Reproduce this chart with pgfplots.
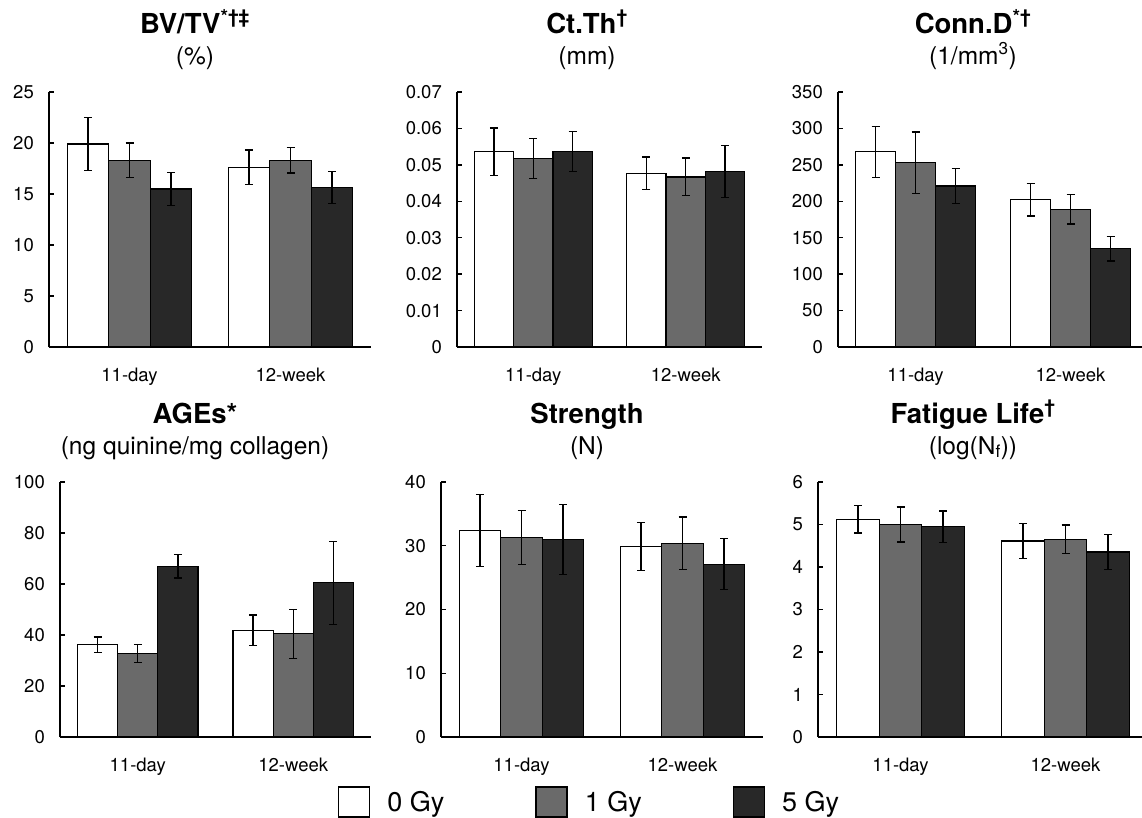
\documentclass[border=0pt]{standalone}
\usepackage{fontspec}
\setmainfont{TeX Gyre Heros}
\usepackage{pgfplots}
\pgfplotsset{compat=1.18}

\definecolor{gyone}{HTML}{6A6A6A}
\definecolor{gyfive}{HTML}{282828}

% one pixel of the reference = 1pt here
\pgfplotsset{
  panel/.style={
    scale only axis, height=255pt, anchor=south west,
    axis x line*=bottom, axis y line*=left,
    axis line style={line width=1.6pt, -},
    xmin=-0.5, xmax=1.5, ymin=0,
    xtick={0,1}, xticklabels={11-day,12-week},
    major x tick style={draw=none},
    tick align=inside, major tick length=5pt,
    major y tick style={line width=1.4pt, black},
    ybar, bar width=0.258,
    scaled y ticks=false,
    /pgf/number format/assume math mode=true,
    ticklabel style={font=\fontsize{18.5}{22}\selectfont},
    yticklabel style={anchor=east, inner sep=0pt, xshift=-15pt},
    xticklabel style={anchor=base, inner sep=0pt, yshift=-29pt},
    clip=false,
  },
  gy/.style={draw=black, line width=1.3pt, fill=#1,
    error bars/y dir=both, error bars/y explicit,
    error bars/error bar style={line width=1.3pt, black},
    error bars/error mark options={rotate=90, line width=1.3pt, mark size=4pt, black}},
}
\tikzset{
  ttl/.style={font=\fontsize{27.5}{32}\selectfont\bfseries},
  unt/.style={font=\fontsize{24.5}{29}\selectfont},
}

\begin{document}
\begin{tikzpicture}
\path[use as bounding box] (0,0) rectangle (1142pt,-817pt);

% BV/TV
\begin{axis}[panel, width=322pt, at={(49pt,-347pt)}, ymax=25, ytick={0,5,10,15,20,25}]
\addplot[gy=white, bar shift=-0.258] coordinates {(0,19.9) +- (0,2.6) (1,17.6) +- (0,1.7)};
\addplot[gy=gyone, bar shift=0] coordinates {(0,18.3) +- (0,1.7) (1,18.3) +- (0,1.25)};
\addplot[gy=gyfive, bar shift=0.258] coordinates {(0,15.5) +- (0,1.6) (1,15.65) +- (0,1.55)};
\end{axis}

% Ct.Th
\begin{axis}[panel, width=305pt, at={(457pt,-347pt)}, ymax=0.07,
  ytick={0,0.01,0.02,0.03,0.04,0.05,0.06,0.07},
  yticklabel style={/pgf/number format/fixed, /pgf/number format/precision=2}]
\addplot[gy=white, bar shift=-0.258] coordinates {(0,0.0536) +- (0,0.0065) (1,0.0477) +- (0,0.0045)};
\addplot[gy=gyone, bar shift=0] coordinates {(0,0.0517) +- (0,0.0055) (1,0.0467) +- (0,0.0052)};
\addplot[gy=gyfive, bar shift=0.258] coordinates {(0,0.0536) +- (0,0.0055) (1,0.0482) +- (0,0.0072)};
\end{axis}

% Conn.D
\begin{axis}[panel, width=310pt, at={(838pt,-347pt)}, ymax=350, ytick={0,50,...,350}]
\addplot[gy=white, bar shift=-0.258] coordinates {(0,268) +- (0,35) (1,202) +- (0,22)};
\addplot[gy=gyone, bar shift=0] coordinates {(0,253) +- (0,42) (1,189) +- (0,20)};
\addplot[gy=gyfive, bar shift=0.258] coordinates {(0,221) +- (0,24) (1,135) +- (0,17)};
\end{axis}

% AGEs
\begin{axis}[panel, width=311pt, at={(60pt,-737pt)}, ymax=100, ytick={0,20,...,100}]
\addplot[gy=white, bar shift=-0.258] coordinates {(0,36.2) +- (0,3.0) (1,41.9) +- (0,6.0)};
\addplot[gy=gyone, bar shift=0] coordinates {(0,32.8) +- (0,3.5) (1,40.5) +- (0,9.6)};
\addplot[gy=gyfive, bar shift=0.258] coordinates {(0,67.0) +- (0,4.7) (1,60.5) +- (0,16.3)};
\end{axis}

% Strength
\begin{axis}[panel, width=322pt, at={(441pt,-737pt)}, ymax=40, ytick={0,10,...,40},
  legend style={at={(-0.32,-0.255)}, anchor=west, draw=none, fill=none,
    legend columns=3, inner sep=0pt, nodes={inner sep=0pt},
    font=\fontsize{27}{30}\selectfont,
    /tikz/every odd column/.append style={column sep=17pt},
    /tikz/every even column/.append style={column sep=91pt}},
  legend image code/.code={\draw[#1, line width=1.3pt] (0pt,-15pt) rectangle (31pt,15pt);}]
\addplot[gy=white, bar shift=-0.258] coordinates {(0,32.4) +- (0,5.6) (1,29.9) +- (0,3.8)};
\addplot[gy=gyone, bar shift=0] coordinates {(0,31.3) +- (0,4.2) (1,30.4) +- (0,4.1)};
\addplot[gy=gyfive, bar shift=0.258] coordinates {(0,31.0) +- (0,5.5) (1,27.1) +- (0,4.0)};
\legend{0 Gy, 1 Gy, 5 Gy}
\end{axis}

% Fatigue life
\begin{axis}[panel, width=330pt, at={(818pt,-737pt)}, ymax=6, ytick={0,1,...,6}]
\addplot[gy=white, bar shift=-0.258] coordinates {(0,5.12) +- (0,0.32) (1,4.61) +- (0,0.41)};
\addplot[gy=gyone, bar shift=0] coordinates {(0,5.00) +- (0,0.41) (1,4.65) +- (0,0.34)};
\addplot[gy=gyfive, bar shift=0.258] coordinates {(0,4.95) +- (0,0.37) (1,4.35) +- (0,0.41)};
\end{axis}

% panel titles
\begin{scope}[every node/.style={anchor=base, inner sep=0pt}]
\node[ttl] at (195pt,-33pt) {BV/TV\textsuperscript{*†‡}};
\node[unt] at (195pt,-64pt) {(\%)};
\node[ttl] at (587pt,-33pt) {Ct.Th\textsuperscript{†}};
\node[unt] at (587pt,-64pt) {(mm)};
\node[ttl] at (973pt,-33pt) {Conn.D\textsuperscript{*†}};
\node[unt] at (973pt,-64pt) {(1/mm\textsuperscript{3})};
\node[ttl] at (195pt,-423pt) {AGEs*};
\node[unt] at (195pt,-454pt) {(ng quinine/mg collagen)};
\node[ttl] at (587pt,-423pt) {Strength};
\node[unt] at (587pt,-454pt) {(N)};
\node[ttl] at (973pt,-423pt) {Fatigue Life\textsuperscript{†}};
\node[unt] at (973pt,-454pt) {(log(N\textsubscript{f}))};
\end{scope}
\end{tikzpicture}
\end{document}
